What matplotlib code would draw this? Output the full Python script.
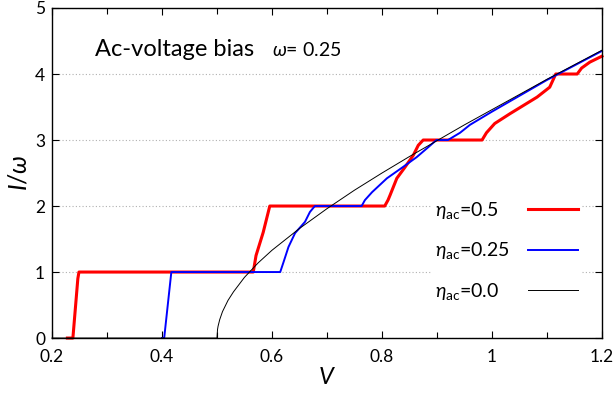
import numpy as np
import matplotlib
matplotlib.use('Agg')
import matplotlib.pyplot as plt
from matplotlib.ticker import MultipleLocator

plt.rcParams['font.family'] = ['Lato', 'DejaVu Sans']
plt.rcParams['mathtext.fontset'] = 'custom'
plt.rcParams['mathtext.rm'] = 'Lato'
plt.rcParams['mathtext.it'] = 'Lato:italic'
plt.rcParams['mathtext.fallback'] = 'stixsans'

# eta_ac = 0.5
v_red = [0.228, 0.238, 0.241, 0.244, 0.247, 0.249, 0.566, 0.571, 0.584, 0.596,
         0.805, 0.811, 0.815, 0.827, 0.842, 0.857, 0.866, 0.875, 0.982, 0.99,
         1.005, 1.033, 1.082, 1.105, 1.116, 1.155, 1.163, 1.178, 1.2]
i_red = [0, 0, 0.3, 0.6, 0.9, 1.0, 1.0, 1.25, 1.6, 2.0,
         2.0, 2.09, 2.17, 2.42, 2.59, 2.77, 2.92, 3.0, 3.0, 3.11,
         3.25, 3.4, 3.65, 3.8, 4.0, 4.0, 4.09, 4.18, 4.27]

# eta_ac = 0.25
v_blue = [0.400, 0.404, 0.417, 0.615, 0.621, 0.630, 0.642, 0.660, 0.669, 0.678,
          0.763, 0.769, 0.782, 0.809, 0.838, 0.863, 0.884, 0.899, 0.92, 0.942,
          0.96, 1.0, 1.05, 1.1, 1.15, 1.2]
i_blue = [0, 0, 1.0, 1.0, 1.15, 1.38, 1.59, 1.76, 1.91, 2.0,
          2.0, 2.09, 2.21, 2.42, 2.59, 2.74, 2.89, 3.0, 3.0, 3.11,
          3.23, 3.43, 3.67, 3.91, 4.13, 4.35]

# eta_ac = 0.0
v_black = [0.2, 0.5, 0.501, 0.502, 0.505, 0.51, 0.52, 0.53, 0.55, 0.575, 0.6,
           0.65, 0.7, 0.75, 0.8, 0.85, 0.9, 0.95, 1.0, 1.1, 1.2]
i_black = [0, 0, 0.13, 0.18, 0.28, 0.40, 0.57, 0.70, 0.92, 1.14, 1.33,
           1.66, 1.96, 2.24, 2.50, 2.75, 2.99, 3.23, 3.46, 3.92, 4.36]

xticks = [0.2, 0.4, 0.6, 0.8, 1.0, 1.2]
xticklabels = ['0.2', '0.4', '0.6', '0.8', '1', '1.2']
yticks = [0, 1, 2, 3, 4, 5]

fig = plt.figure(figsize=(6.16, 3.94), dpi=100)
ax = fig.add_axes([0.0844, 0.142, 0.8928, 0.8377])

ax.plot(v_red, i_red, color='#ff0000', lw=2.2, label=r'$\eta_{\rm ac}$=0.5', clip_on=False, zorder=3)
ax.plot(v_blue, i_blue, color='#0000ff', lw=1.4, label=r'$\eta_{\rm ac}$=0.25', clip_on=False, zorder=3)
ax.plot(v_black, i_black, color='black', lw=0.7, label=r'$\eta_{\rm ac}$=0.0', clip_on=False, zorder=3)

ax.set_xlim(0.2, 1.2)
ax.set_ylim(0, 5)
ax.set_xticks(xticks)
ax.set_xticklabels(xticklabels)
ax.set_yticks(yticks)
ax.xaxis.set_minor_locator(MultipleLocator(0.1))
ax.tick_params(which='both', direction='in', top=True, right=True, labelsize=12.5)
ax.tick_params(which='major', length=5, width=0.8)
ax.tick_params(which='minor', length=4, width=0.8)
ax.tick_params(axis='x', pad=8)
ax.tick_params(axis='y', pad=5)
for s in ax.spines.values():
    s.set_linewidth(1.0)
    s.set_zorder(4)

ax.yaxis.grid(True, linestyle=(0, (1, 2)), color='#b0b0b0', lw=0.8)
ax.set_axisbelow(True)

ax.set_xlabel(r'$V$', fontsize=17, labelpad=1)
ax.set_ylabel(r'$I/\omega$', fontsize=18, labelpad=3)

ax.text(0.078, 0.8545, 'Ac-voltage bias', fontsize=17, transform=ax.transAxes, va='baseline')
ax.text(0.40, 0.8545, r'$\omega$= 0.25', fontsize=14, transform=ax.transAxes, va='baseline')

leg = ax.legend(loc='upper left', bbox_to_anchor=(0.69, 0.43), markerfirst=False,
                fontsize=14, frameon=True, fancybox=False, framealpha=1,
                facecolor='white', edgecolor='none', handlelength=2.6,
                handletextpad=0.9, labelspacing=1.0, borderpad=0.2, borderaxespad=0)
leg.set_zorder(5)

# gnuplot-style key: labels flush left, line samples flush right
fig.canvas.draw()
renderer = fig.canvas.get_renderer()
for col in leg._legend_handle_box.get_children():
    items = col.get_children()
    w = max(it.get_bbox(renderer).width for it in items)
    for it in items:
        it.mode = 'expand'
        it.width = w

fig.savefig('out.png', dpi=100)
